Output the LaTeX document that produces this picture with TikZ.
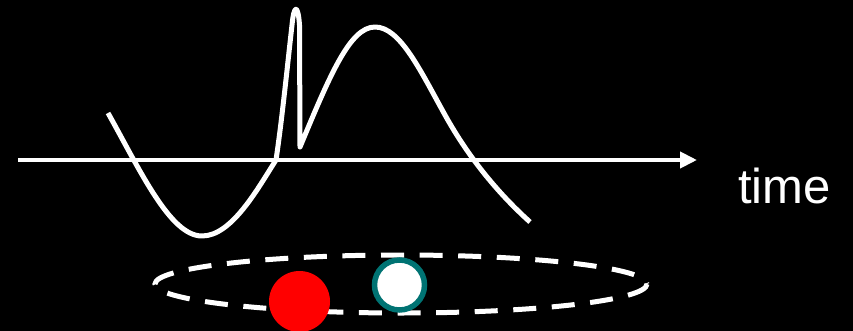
\documentclass[tikz,border=0pt]{standalone}
\usepackage{fontspec}
\setmainfont{Liberation Sans}
\usetikzlibrary{arrows.meta}
\definecolor{tealring}{RGB}{0,115,115}
\tikzset{
  wave/.style={white,line width=5pt,line join=round,line cap=butt},
  axisline/.style={white,line width=4pt,-{Triangle[length=17pt,width=16pt]}},
  orbit/.style={white,line width=5pt,dash pattern=on 23pt off 15.6pt},
}
\begin{document}
\begin{tikzpicture}[x=1pt,y=-1pt]
\fill[black] (0,0) rectangle (853,331);
\useasboundingbox (0,0) rectangle (853,331);
% axis
\coordinate (axstart) at (18,160);
\coordinate (axend) at (697,160);
\draw[axisline] (axstart) -- (axend);
\node[white,anchor=base west,inner sep=0pt,font=\fontsize{49}{54}\selectfont] (timelabel) at (738,203) {time};
% waveform
\draw[wave] (108,113) .. controls (140,170) and (170,236) .. (202,236)
  .. controls (232,236) and (258,188) .. (276,160)
  .. controls (282,120) and (288,60) .. (292,25)
  .. controls (294,4) and (298,4) .. (299.5,25)
  -- (300,147)
  .. controls (330,75) and (350,27) .. (375,27)
  .. controls (400,27) and (420,70) .. (445,115)
  .. controls (470,160) and (500,195) .. (530,222);
% orbit
\draw[orbit] (401,284) ellipse [x radius=246, y radius=29];
\node[circle,fill=red,minimum size=61pt,inner sep=0pt] (redball) at (299.5,301.5) {};
\node[circle,fill=white,draw=tealring,line width=5.5pt,minimum size=50pt,inner sep=0pt] (whiteball) at (399.5,285) {};
\end{tikzpicture}
\end{document}
